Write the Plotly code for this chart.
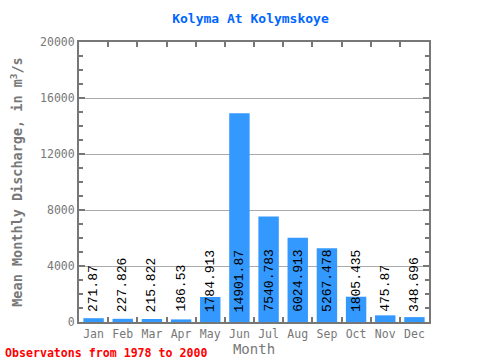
import plotly.graph_objects as go

months = ["Jan", "Feb", "Mar", "Apr", "May", "Jun", "Jul", "Aug", "Sep", "Oct", "Nov", "Dec"]
discharge = [271.87, 227.826, 215.822, 186.53, 1784.913, 14901.87, 7540.783, 6024.913, 5267.478, 1805.435, 475.87, 348.696]
labels = ["271.87", "227.826", "215.822", "186.53", "1784.913", "14901.87", "7540.783", "6024.913", "5267.478", "1805.435", "475.87", "348.696"]

font = "DejaVu Sans Mono, Liberation Mono, monospace"
label_font = "Liberation Mono, DejaVu Sans Mono, monospace"
axis_color = "#777777"

fig = go.Figure()
fig.add_trace(go.Bar(x=months, y=discharge, marker=dict(color="#3399ff", line=dict(width=0)), width=0.7))

for m, v, t in zip(months, discharge, labels):
    fig.add_annotation(x=m, y=0, text=t, textangle=-90, showarrow=False,
                       yanchor="bottom", xanchor="center", yshift=8,
                       font=dict(family=label_font, size=13, color="black"))

fig.add_annotation(xref="paper", yref="paper", x=-0.217, y=-0.08, xanchor="left", yanchor="top",
                   text="<b>Observatons from 1978 to 2000</b>", showarrow=False,
                   font=dict(family=font, size=11.6, color="red"))

fig.update_layout(
    width=480, height=360,
    margin=dict(l=79, r=51, t=42, b=38, autoexpand=False),
    plot_bgcolor="white", paper_bgcolor="white",
    showlegend=False,
    bargap=0.3,
    title=dict(text="<b>Kolyma At Kolymskoye</b>", xref="paper", x=0.49, xanchor="center", y=0.95, yanchor="middle",
               font=dict(family=font, size=13, color="#0066ff")),
    xaxis=dict(title=dict(text="Month", font=dict(family=font, size=14, color=axis_color), standoff=4),
               tickfont=dict(family=font, size=11.5, color=axis_color), tickangle=0, automargin=False,
               showline=True, linecolor=axis_color, linewidth=2, mirror="ticks",
               ticks="inside", tickson="boundaries", ticklen=5, tickcolor=axis_color, tickwidth=2,
               showgrid=False),
    yaxis=dict(title=dict(text="<b>Mean Monthly Discharge, in m<sup>3</sup>/s</b>", font=dict(family=font, size=13.5, color=axis_color), standoff=14),
               tickfont=dict(family=font, size=11.5, color=axis_color), automargin=False,
               range=[0, 20000], dtick=4000, tickformat="d",
               showline=True, linecolor=axis_color, linewidth=2, mirror="ticks",
               ticks="inside", ticklen=6, tickcolor=axis_color, tickwidth=2,
               minor=dict(dtick=1000, ticks="inside", ticklen=4, tickcolor=axis_color, tickwidth=2, showgrid=False),
               showgrid=True, gridcolor="#aaaaaa", gridwidth=1, zeroline=False),
)

fig.write_html("out.html", config={"displayModeBar": False},
               post_script="document.body.style.margin='0';document.body.style.overflow='hidden';")
